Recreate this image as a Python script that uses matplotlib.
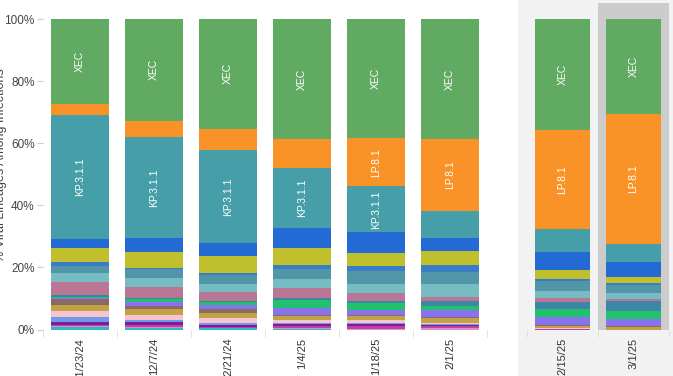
import matplotlib
matplotlib.use('Agg')
import matplotlib.pyplot as plt
from matplotlib.patches import Rectangle
import numpy as np

plt.rcParams['font.family'] = ['Liberation Sans', 'DejaVu Sans']

# two week periods; last two are the nowcast panel
dates_main = ["11/23/24", "12/7/24", "12/21/24", "1/4/25", "1/18/25", "2/1/25"]
dates_nowcast = ["2/15/25", "3/1/25"]

# lineage shares (%), bottom -> top, one value per period (8 periods)
jn1_18    = [0.7, 0.55, 0.55, 0.25, 0.0, 0.0, 0.0, 0.0]
kp2       = [0.4, 0.3, 0.0, 0.3, 0.2, 0.4, 0.0, 0.0]
kp1_1_3   = [0.4, 0.65, 0.3, 0.65, 1.0, 0.8, 0.25, 0.0]
jn1_16_1  = [1.0, 1.0, 0.65, 0.65, 0.65, 0.3, 0.0, 0.0]
lb1       = [1.6, 0.65, 0.65, 0.3, 0.3, 0.3, 0.0, 0.0]
kp3       = [1.9, 1.6, 1.6, 1.0, 1.0, 0.3, 0.3, 0.0]
kp2_15    = [1.9, 1.9, 1.6, 1.3, 1.3, 1.6, 0.65, 0.85]
kp2_3     = [1.9, 1.0, 1.3, 0.3, 0.3, 0.3, 0.3, 0.3]
xec_2     = [0.5, 1.3, 1.3, 2.3, 1.6, 2.3, 2.6, 2.3]
xec_4     = [0.3, 1.0, 1.0, 2.3, 2.3, 1.3, 2.6, 2.6]
lf7       = [0.4, 0.3, 0.3, 0.65, 0.65, 1.6, 2.3, 3.2]
kp3_3     = [4.2, 3.5, 2.9, 3.5, 2.3, 1.3, 1.0, 0.65]
ks1_1     = [2.9, 2.9, 2.6, 2.9, 2.9, 4.2, 2.3, 1.9]
mc1       = [2.3, 2.9, 2.9, 3.2, 4.5, 3.9, 3.2, 2.6]
lp8       = [1.3, 0.3, 0.65, 1.3, 1.3, 2.3, 0.65, 0.65]
kp3_1_1_x = [4.5, 5.2, 5.5, 5.5, 4.2, 4.5, 2.9, 1.9]
mc10_1    = [2.9, 4.5, 3.9, 6.4, 6.8, 4.2, 5.8, 4.8]
kp3_1_1   = [39.9, 32.5, 30.0, 19.3, 14.8, 8.7, 7.4, 5.8]
lp8_1     = [3.5, 5.2, 6.8, 9.3, 15.5, 22.9, 31.9, 41.9]
xec       = [27.4, 32.9, 35.7, 38.6, 38.6, 39.0, 36.1, 30.6]

lineages = [
    ("JN.1.18", jn1_18, "#2FB7C5"),
    ("KP.2", kp2, "#D891C6"),
    ("KP.1.1.3", kp1_1_3, "#C1409C"),
    ("JN.1.16.1", jn1_16_1, "#7A1DA0"),
    ("LB.1", lb1, "#6E9CE4"),
    ("KP.3", kp3, "#F8C4D4"),
    ("KP.2.15", kp2_15, "#C1A346"),
    ("KP.2.3", kp2_3, "#8A6A62"),
    ("XEC.2", xec_2, "#8872EE"),
    ("XEC.4", xec_4, "#22C16E"),
    ("LF.7", lf7, "#3E86A6"),
    ("KP.3.3", kp3_3, "#BA7795"),
    ("KS.1.1", ks1_1, "#76BCC2"),
    ("MC.1", mc1, "#5196A8"),
    ("LP.8", lp8, "#3B7CC6"),
    ("KP.3.1.1x", kp3_1_1_x, "#C0C02C"),
    ("MC.10.1", mc10_1, "#246AD4"),
    ("KP.3.1.1", kp3_1_1, "#469EA8"),
    ("LP.8.1", lp8_1, "#F99227"),
    ("XEC", xec, "#60AA61"),
]
labelled = {"XEC", "KP.3.1.1", "LP.8.1"}

W, H = 673, 376
fig = plt.figure(figsize=(W / 100, H / 100), dpi=100, facecolor='white')

# nowcast shading
fig.patches.append(Rectangle((518 / W, 0), 1 - 518 / W, 1, transform=fig.transFigure,
                             facecolor='#F2F2F2', edgecolor='none', zorder=-2))
fig.patches.append(Rectangle((598 / W, (H - 330) / H), 71 / W, 327 / H,
                             transform=fig.transFigure, facecolor='#CCCCCC',
                             edgecolor='none', zorder=-1))

bottom_f = (H - 329.5) / H
height_f = (329.5 - 19) / H
ax1 = fig.add_axes([43 / W, bottom_f, 444 / W, height_f])
ax2 = fig.add_axes([527 / W, bottom_f, 142 / W, height_f])


def draw(ax, idx, labels):
    x = np.arange(len(idx))
    base = np.zeros(len(idx))
    for name, vals, color in lineages:
        v = np.array([vals[i] for i in idx])
        ax.bar(x, v, bottom=base, width=0.78, color=color, linewidth=0)
        if name in labelled:
            for xi, (b, h) in enumerate(zip(base, v)):
                if h >= 10:
                    ax.text(xi, b + h / 2, name, rotation=90, ha='center',
                            va='center', color='white', fontsize=7.5)
        base += v
    ax.set_xlim(-0.5, len(idx) - 0.5)
    ax.set_ylim(0, 100)
    ax.set_xticks(x)
    ax.set_xticklabels(labels, rotation=90, fontsize=8, color='#333333', va='top')
    ax.set_xticks(np.arange(len(idx) + 1) - 0.5, minor=True)
    ax.tick_params(axis='x', which='major', length=0, pad=6)
    ax.tick_params(axis='x', which='minor', length=5, color='#DDDDDD')
    ax.set_facecolor('none')
    for s in ax.spines.values():
        s.set_visible(False)


draw(ax1, range(6), dates_main)
draw(ax2, range(6, 8), dates_nowcast)

ax1.set_yticks(range(0, 101, 20))
ax1.set_yticklabels([f"{t}%" for t in range(0, 101, 20)], fontsize=8.5, color='#444444')
ax1.tick_params(axis='y', length=4, color='#CCCCCC', pad=2)
ax2.set_yticks([])

fig.text(1 / W, (H - 165) / H, "% Viral Lineages Among Infections", rotation=90,
         ha='center', va='center', fontsize=9, color='#444444')

fig.savefig("out.png", dpi=100, facecolor='white')
